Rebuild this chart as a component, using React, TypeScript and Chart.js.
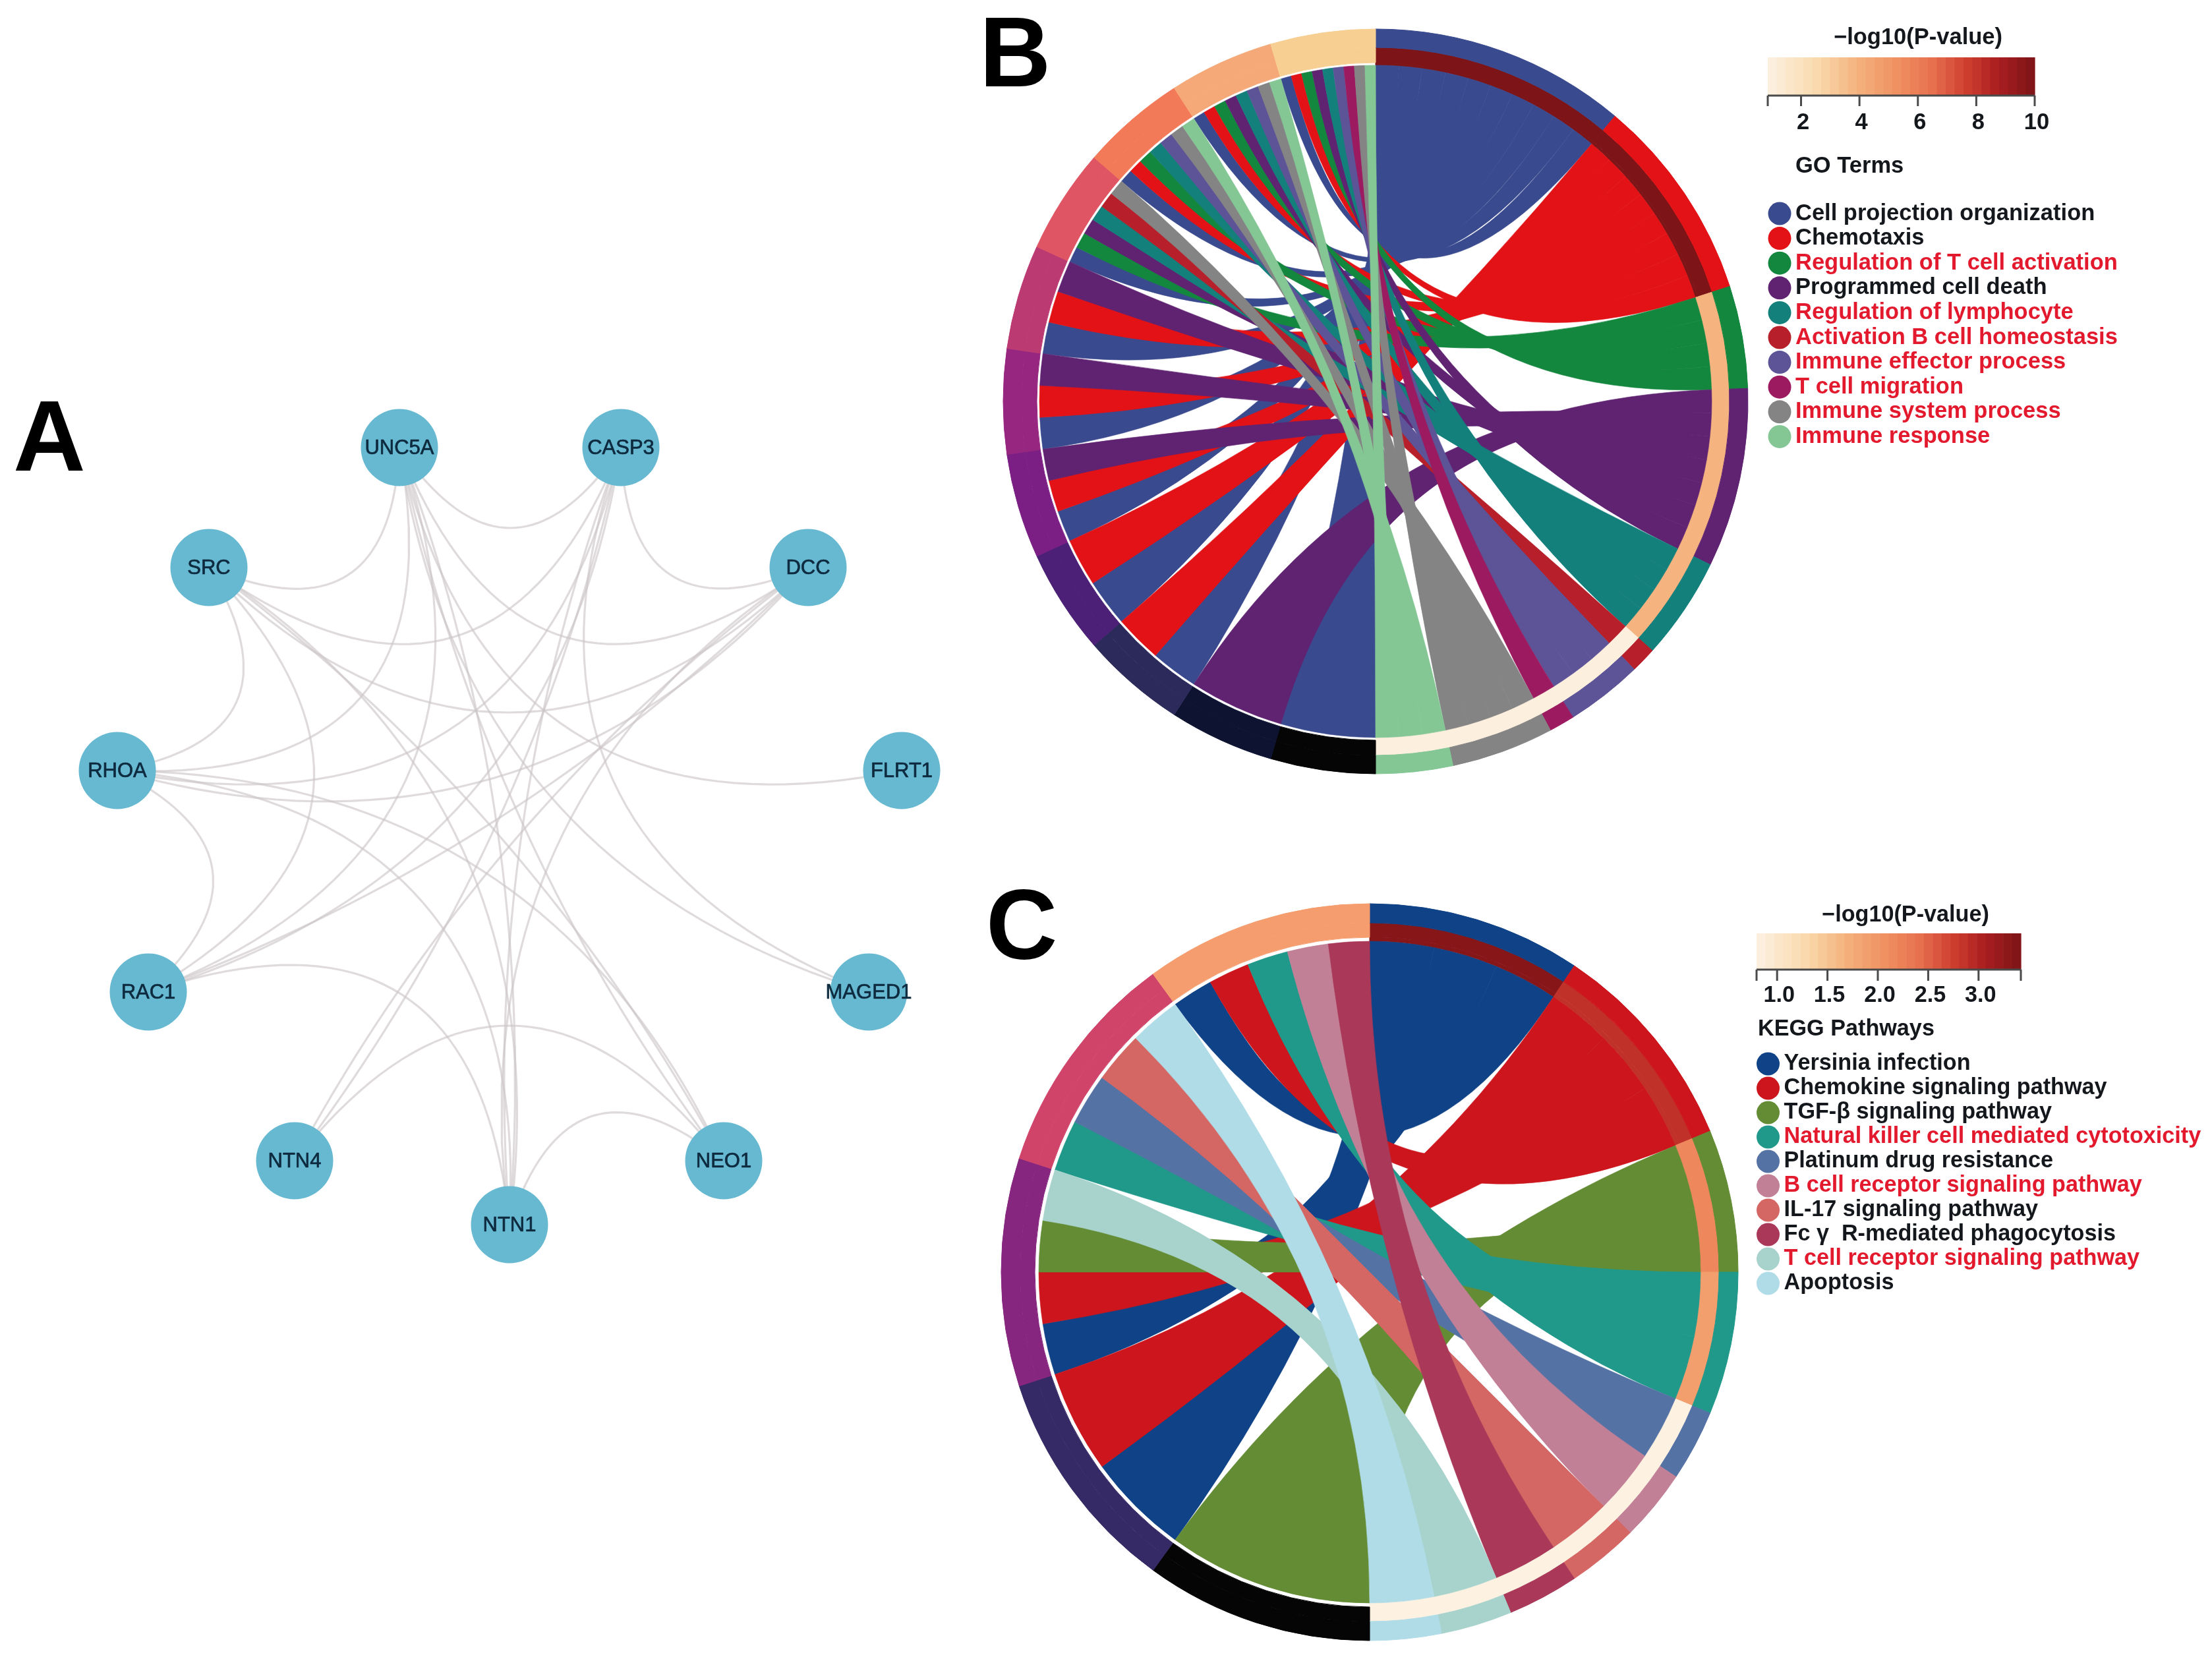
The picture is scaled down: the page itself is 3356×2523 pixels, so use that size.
import React, { useEffect, useRef } from "react";
import { Chart, registerables } from "chart.js";

Chart.register(...registerables);

// ---------- Panel A: interaction network ----------
const nodeNames = ["UNC5A", "CASP3", "DCC", "FLRT1", "MAGED1", "NEO1", "NTN1", "NTN4", "RAC1", "RHOA", "SRC"];
const nodeX = [606, 942, 1226, 1368, 1318, 1098, 773, 447, 225, 178, 317];
const nodeY = [679, 679, 861, 1169, 1505, 1761, 1858, 1761, 1505, 1169, 861];
const networkEdges: [string, string][] = [
  ["UNC5A", "SRC"], ["UNC5A", "CASP3"], ["UNC5A", "DCC"], ["UNC5A", "FLRT1"], ["UNC5A", "NTN1"],
  ["UNC5A", "NEO1"], ["UNC5A", "MAGED1"], ["UNC5A", "RHOA"], ["UNC5A", "RAC1"],
  ["CASP3", "DCC"], ["CASP3", "SRC"], ["CASP3", "RHOA"], ["CASP3", "RAC1"], ["CASP3", "NTN1"],
  ["CASP3", "MAGED1"], ["CASP3", "NTN4"],
  ["DCC", "SRC"], ["DCC", "RHOA"], ["DCC", "RAC1"], ["DCC", "NTN4"], ["DCC", "NTN1"],
  ["SRC", "RHOA"], ["SRC", "RAC1"], ["SRC", "NEO1"], ["SRC", "NTN1"],
  ["RHOA", "RAC1"], ["RHOA", "NEO1"], ["RHOA", "NTN1"],
  ["RAC1", "NTN1"], ["NTN4", "NEO1"], ["NTN1", "NEO1"],
];

// ---------- Panel B: GO chord ----------
const goTerms = [
  "Cell projection organization", "Chemotaxis", "Regulation of T cell activation", "Programmed cell death",
  "Regulation of lymphocyte", "Activation B cell homeostasis", "Immune effector process", "T cell migration",
  "Immune system process", "Immune response",
];
const goHighlighted = [false, false, true, false, true, true, true, true, true, true];
const goTermColors = ["#3a4a8f", "#e31216", "#14873f", "#5f2372", "#14807c", "#b71f2a", "#5d5397", "#9c1a60", "#848484", "#84c795"];
const goGeneColors = ["#050505", "#0d1330", "#2c2a5a", "#4b2076", "#7b1f85", "#96267f", "#bb3a72", "#e05564", "#f37a58", "#f5a978", "#f7cf92"];
const goPValues = [10, 10, 3.9, 3.9, 3.9, 1, 1, 1, 1, 1];
const goLinks = [
  [1, 3, 4, 5, 6, 7, 8, 9, 10, 11],
  [3, 4, 5, 6, 7, 9, 10, 11],
  [8, 9, 10, 11],
  [2, 5, 6, 7, 8, 10, 11],
  [8, 9, 10, 11],
  [8],
  [9, 10, 11],
  [11],
  [8, 9, 10, 11],
  [9, 10, 11],
];
const goTickLabels = ["2", "4", "6", "8", "10"];

// ---------- Panel C: KEGG chord ----------
const keggTerms = [
  "Yersinia infection", "Chemokine signaling pathway", "TGF-β signaling pathway",
  "Natural killer cell mediated cytotoxicity", "Platinum drug resistance", "B cell receptor signaling pathway",
  "IL-17 signaling pathway", "Fc γ  R-mediated phagocytosis", "T cell receptor signaling pathway", "Apoptosis",
];
const keggHighlighted = [false, false, false, true, false, true, false, false, true, false];
const keggTermColors = ["#0f4286", "#cc151c", "#648c35", "#21998a", "#5572a5", "#c28097", "#d46664", "#a93859", "#a8d3cc", "#b0dce8"];
const keggGeneColors = ["#050505", "#352a66", "#86267f", "#d0446a", "#f59d6e"];
const keggPValues = [3.34, 2.87, 2.16, 1.9, 0.8, 0.8, 0.8, 0.8, 0.8, 0.8];
const keggLinks = [
  [2, 3, 5],
  [2, 3, 5],
  [1, 3],
  [4, 5],
  [4],
  [5],
  [4],
  [5],
  [3],
  [4],
];
const keggTickLabels = ["1.0", "1.5", "2.0", "2.5", "3.0"];

// Colour ramp of the -log10(P) bars
const rampStops = [0, 0.2, 0.35, 0.5, 0.62, 0.74, 0.86, 1];
const rampColors = ["#fdf1e2", "#f9d7a8", "#f4ae7a", "#ef8d5f", "#e76f4f", "#d0402f", "#ab1e20", "#7d1417"];

const FONT = '"Liberation Sans", Arial, sans-serif';
const RED = "#e3192e";
const INK = "#14171c";

const hexRgb = (h: string) => [1, 3, 5].map((i) => parseInt(h.slice(i, i + 2), 16));
function rampColor(t: number) {
  const v = Math.max(0, Math.min(1, t));
  let i = 0;
  while (i < rampStops.length - 2 && v > rampStops[i + 1]) i++;
  const f = (v - rampStops[i]) / (rampStops[i + 1] - rampStops[i]);
  const a = hexRgb(rampColors[i]);
  const b = hexRgb(rampColors[i + 1]);
  return `rgb(${a.map((c, k) => Math.round(c + (b[k] - c) * f)).join(",")})`;
}

type ChordCfg = {
  letter: string; letterX: number; letterY: number; fontPx: number;
  canvasTop: number; cx: number; cy: number; R: number; cut: number; pOuter: number; geneInner: number;
  terms: string[]; highlighted: boolean[]; termColors: string[]; geneColors: string[];
  pValues: number[]; links: number[][]; ticks: string[];
  pMin: number; pMax: number; tickFirst: number; tickStep: number;
  barX0: number; barX1: number; barY0: number; barY1: number; tickBottom: number; labelY: number;
  titleX: number; titleY: number; heading: string; headingX: number; headingY: number;
  dotX: number; textX: number; rowY0: number; rowStep: number;
};

const CANVAS_LEFT = 1480;
const CANVAS_W = 1876;

const chordPlugin = {
  id: "chordRibbons",
  afterDatasetsDraw(chart: any, _a: any, opts: any) {
    const cfg: ChordCfg = opts.cfg;
    const ctx = chart.ctx;
    const inner = chart.getDatasetMeta(2).data[0];
    const cx = inner.x, cy = inner.y, r = inner.innerRadius;
    const total = cfg.links.reduce((s, l) => s + l.length, 0);
    const nGenes = cfg.geneColors.length;
    const step = 180 / total;
    const geneW = 180 / nGenes;
    const geneCount = new Array(nGenes + 1).fill(0);
    cfg.links.forEach((l) => l.forEach((g) => geneCount[g]++));
    const used = new Array(nGenes + 1).fill(0);
    const pt = (deg: number) => {
      const a = (deg * Math.PI) / 180;
      return [cx + r * Math.sin(a), cy - r * Math.cos(a)];
    };
    const canvasAngle = (deg: number) => ((deg - 90) * Math.PI) / 180;
    let a = 0;
    ctx.save();
    ctx.lineWidth = 0.6;
    ctx.lineJoin = "round";
    cfg.links.forEach((l, t) => {
      ctx.fillStyle = cfg.termColors[t];
      ctx.strokeStyle = cfg.termColors[t];
      l.forEach((g) => {
        const w = geneW / geneCount[g];
        const g0 = 180 + (g - 1) * geneW + used[g] * w;
        used[g]++;
        const [tx0, ty0] = pt(a);
        const [tx1, ty1] = pt(a + step);
        const [gx1, gy1] = pt(g0 + w);
        ctx.beginPath();
        ctx.moveTo(tx0, ty0);
        ctx.quadraticCurveTo(cx, cy, gx1, gy1);
        ctx.arc(cx, cy, r, canvasAngle(g0 + w), canvasAngle(g0), true);
        ctx.quadraticCurveTo(cx, cy, tx1, ty1);
        ctx.arc(cx, cy, r, canvasAngle(a + step), canvasAngle(a), true);
        ctx.closePath();
        ctx.fill();
        ctx.stroke();
        a += step;
      });
    });
    ctx.restore();
  },
  afterDraw(chart: any, _a: any, opts: any) {
    const cfg: ChordCfg = opts.cfg;
    const ctx = chart.ctx;
    const ox = CANVAS_LEFT, oy = cfg.canvasTop;
    ctx.save();
    ctx.translate(-ox, -oy);
    ctx.textBaseline = "middle";
    // panel letter
    ctx.fillStyle = "#000";
    ctx.font = `bold 150px ${FONT}`;
    ctx.textAlign = "left";
    ctx.fillText(cfg.letter, cfg.letterX, cfg.letterY);
    // colour bar
    ctx.font = `bold ${cfg.fontPx}px ${FONT}`;
    ctx.textAlign = "center";
    ctx.fillStyle = INK;
    ctx.fillText("−log10(P-value)", cfg.titleX, cfg.titleY);
    const bands = 30;
    const bw = (cfg.barX1 - cfg.barX0) / bands;
    for (let i = 0; i < bands; i++) {
      ctx.fillStyle = rampColor((i + 0.5) / bands);
      ctx.fillRect(cfg.barX0 + i * bw, cfg.barY0, bw + 0.6, cfg.barY1 - cfg.barY0);
    }
    const xOf = (v: number) => cfg.barX0 + ((v - cfg.pMin) / (cfg.pMax - cfg.pMin)) * (cfg.barX1 - cfg.barX0);
    ctx.strokeStyle = "#4a4a4a";
    ctx.lineWidth = 3;
    ctx.beginPath();
    ctx.moveTo(cfg.barX0, cfg.barY1);
    ctx.lineTo(cfg.barX1, cfg.barY1);
    const tickVals = [cfg.pMin, cfg.pMax, ...cfg.ticks.map((_, i) => cfg.tickFirst + i * cfg.tickStep)];
    tickVals.forEach((v) => {
      ctx.moveTo(xOf(v), cfg.barY1);
      ctx.lineTo(xOf(v), cfg.tickBottom);
    });
    ctx.stroke();
    ctx.fillStyle = INK;
    cfg.ticks.forEach((label, i) => {
      ctx.fillText(label, xOf(cfg.tickFirst + i * cfg.tickStep) + 3, cfg.labelY);
    });
    // legend
    ctx.textAlign = "left";
    ctx.fillText(cfg.heading, cfg.headingX, cfg.headingY);
    cfg.terms.forEach((term, i) => {
      const y = cfg.rowY0 + i * cfg.rowStep;
      ctx.fillStyle = cfg.termColors[i];
      ctx.beginPath();
      ctx.arc(cfg.dotX, y, 17.5, 0, Math.PI * 2);
      ctx.fill();
      ctx.fillStyle = cfg.highlighted[i] ? RED : INK;
      ctx.fillText(term, cfg.textX, y);
    });
    ctx.restore();
  },
};

const cfgB: ChordCfg = {
  letter: "B", letterX: 1486, letterY: 90, fontPx: 34.5,
  canvasTop: 0, cx: 2087, cy: 609, R: 565, cut: 510, pOuter: 537, geneInner: 514,
  terms: goTerms, highlighted: goHighlighted, termColors: goTermColors, geneColors: goGeneColors,
  pValues: goPValues, links: goLinks, ticks: goTickLabels,
  pMin: 0.86, pMax: 10, tickFirst: 2, tickStep: 2,
  barX0: 2682, barX1: 3087, barY0: 87, barY1: 145, tickBottom: 161, labelY: 186,
  titleX: 2910, titleY: 57, heading: "GO Terms", headingX: 2724, headingY: 252,
  dotX: 2700, textX: 2724, rowY0: 324, rowStep: 37.6,
};

const cfgC: ChordCfg = {
  letter: "C", letterX: 1496, letterY: 1414, fontPx: 34.2,
  canvasTop: 1260, cx: 2078, cy: 1930, R: 559, cut: 502, pOuter: 530, geneInner: 508,
  terms: keggTerms, highlighted: keggHighlighted, termColors: keggTermColors, geneColors: keggGeneColors,
  pValues: keggPValues, links: keggLinks, ticks: keggTickLabels,
  pMin: 0.796, pMax: 3.42, tickFirst: 1, tickStep: 0.5,
  barX0: 2665, barX1: 3066, barY0: 1416, barY1: 1471, tickBottom: 1488, labelY: 1511,
  titleX: 2891, titleY: 1389, heading: "KEGG Pathways", headingX: 2667, headingY: 1562,
  dotX: 2682.5, textX: 2706.5, rowY0: 1614, rowStep: 37,
};

function chordConfig(cfg: ChordCfg, height: number) {
  const total = cfg.links.reduce((s, l) => s + l.length, 0);
  const nG = cfg.geneColors.length;
  const termArcs = cfg.links.map((l) => l.length);
  const geneArcs = cfg.geneColors.map(() => total / nG);
  const data = [...termArcs, ...geneArcs];
  const pCols = cfg.pValues.map((v) => rampColor((v - cfg.pMin) / (cfg.pMax - cfg.pMin)));
  const ring0 = [...cfg.termColors, ...cfg.geneColors];
  const ring1 = [...pCols, ...cfg.geneColors];
  const ring2 = [...pCols, ...cfg.geneColors.map(() => "rgba(255,255,255,0)")];
  const left = cfg.cx - cfg.R - CANVAS_LEFT - 0.5;
  const right = CANVAS_W - (cfg.cx + cfg.R - CANVAS_LEFT) - 0.5;
  const top = cfg.cy - cfg.R - cfg.canvasTop - 0.5;
  const bottom = height - (cfg.cy + cfg.R - cfg.canvasTop) - 0.5;
  return {
    type: "doughnut" as const,
    data: {
      labels: [...cfg.terms, ...cfg.geneColors.map((_, i) => `gene ${i + 1}`)],
      datasets: [
        { data, backgroundColor: ring0, borderColor: ring0, borderWidth: 1, weight: cfg.R - cfg.pOuter },
        { data, backgroundColor: ring1, borderColor: ring1, borderWidth: 1, weight: cfg.pOuter - cfg.geneInner },
        { data, backgroundColor: ring2, borderColor: ring2, borderWidth: 1, weight: cfg.geneInner - cfg.cut },
      ],
    },
    options: {
      responsive: false,
      maintainAspectRatio: false,
      animation: false as const,
      cutout: cfg.cut,
      rotation: 0,
      circumference: 360,
      layout: { padding: { left, right, top, bottom } },
      plugins: { legend: { display: false }, tooltip: { enabled: false }, chordRibbons: { cfg } },
    },
    plugins: [chordPlugin],
  };
}

function ChordPanel({ cfg, height }: { cfg: ChordCfg; height: number }) {
  const ref = useRef<HTMLCanvasElement>(null);
  useEffect(() => {
    const chart = new Chart(ref.current as HTMLCanvasElement, chordConfig(cfg, height) as any);
    return () => chart.destroy();
  }, []);
  return (
    <canvas
      ref={ref}
      width={CANVAS_W}
      height={height}
      style={{ position: "absolute", left: CANVAS_LEFT, top: cfg.canvasTop, width: CANVAS_W, height }}
    />
  );
}

// Curved edge between two nodes: how far it bows towards the ring's middle depends on how many nodes apart they are
const bowByGap = [0, 122, 205, 220, 172, 66];
function edgePoints(a: number, b: number) {
  const n = nodeNames.length;
  const mx = nodeX.reduce((s, v) => s + v, 0) / n;
  const my = nodeY.reduce((s, v) => s + v, 0) / n;
  const gap = Math.min(Math.abs(a - b), n - Math.abs(a - b));
  const hx = (nodeX[a] + nodeX[b]) / 2, hy = (nodeY[a] + nodeY[b]) / 2;
  const dx = nodeX[b] - nodeX[a], dy = nodeY[b] - nodeY[a];
  const len = Math.hypot(dx, dy) || 1;
  let nx = -dy / len, ny = dx / len;
  if (nx * (mx - hx) + ny * (my - hy) < 0) {
    nx = -nx;
    ny = -ny;
  }
  const qx = hx + nx * 2 * bowByGap[gap], qy = hy + ny * 2 * bowByGap[gap];
  const pts = [];
  for (let i = 0; i <= 40; i++) {
    const t = i / 40;
    pts.push({
      x: (1 - t) * (1 - t) * nodeX[a] + 2 * t * (1 - t) * qx + t * t * nodeX[b],
      y: (1 - t) * (1 - t) * nodeY[a] + 2 * t * (1 - t) * qy + t * t * nodeY[b],
    });
  }
  return pts;
}

const nodeLabelPlugin = {
  id: "nodeLabels",
  afterDraw(chart: any) {
    const { ctx, scales } = chart;
    ctx.save();
    ctx.textAlign = "center";
    ctx.textBaseline = "middle";
    ctx.fillStyle = "#0e2a3f";
    ctx.strokeStyle = "#0e2a3f";
    ctx.lineWidth = 0.7;
    ctx.font = `31px ${FONT}`;
    nodeNames.forEach((name, i) => {
      const x = scales.x.getPixelForValue(nodeX[i]);
      const y = scales.y.getPixelForValue(nodeY[i]) + 1;
      ctx.fillText(name, x, y);
      ctx.strokeText(name, x, y);
    });
    ctx.fillStyle = "#000";
    ctx.font = `bold 152px ${FONT}`;
    ctx.textAlign = "left";
    ctx.fillText("A", scales.x.getPixelForValue(20), scales.y.getPixelForValue(672));
    ctx.restore();
  },
};

function NetworkPanel() {
  const ref = useRef<HTMLCanvasElement>(null);
  useEffect(() => {
    const edgeSets = networkEdges.map(([p, q]) => ({
      type: "line" as const,
      label: `${p}-${q}`,
      data: edgePoints(nodeNames.indexOf(p), nodeNames.indexOf(q)),
      borderColor: "rgba(204,197,199,0.62)",
      borderWidth: 3.2,
      pointRadius: 0,
      tension: 0,
      fill: false,
      order: 2,
    }));
    const chart = new Chart(ref.current as HTMLCanvasElement, {
      type: "scatter",
      data: {
        datasets: [
          {
            label: "genes",
            data: nodeNames.map((_, i) => ({ x: nodeX[i], y: nodeY[i] })),
            pointRadius: 58.5,
            pointBackgroundColor: "#66b9d1",
            pointBorderWidth: 0,
            order: 1,
          },
          ...edgeSets,
        ],
      },
      options: {
        responsive: false,
        maintainAspectRatio: false,
        animation: false,
        layout: { padding: 0, autoPadding: false },
        scales: {
          x: { type: "linear", min: 0, max: 1480, display: false },
          y: { type: "linear", min: 0, max: 2523, reverse: true, display: false },
        },
        plugins: { legend: { display: false }, tooltip: { enabled: false } },
      },
      plugins: [nodeLabelPlugin],
    } as any);
    return () => chart.destroy();
  }, []);
  return (
    <canvas ref={ref} width={1480} height={2523} style={{ position: "absolute", left: 0, top: 0, width: 1480, height: 2523 }} />
  );
}

export default function App() {
  useEffect(() => {
    document.body.style.margin = "0";
    document.body.style.background = "#fff";
  }, []);
  return (
    <div style={{ position: "absolute", left: 0, top: 0, width: 3356, height: 2523, overflow: "hidden", background: "#fff" }}>
      <NetworkPanel />
      <ChordPanel cfg={cfgB} height={1260} />
      <ChordPanel cfg={cfgC} height={1263} />
    </div>
  );
}
